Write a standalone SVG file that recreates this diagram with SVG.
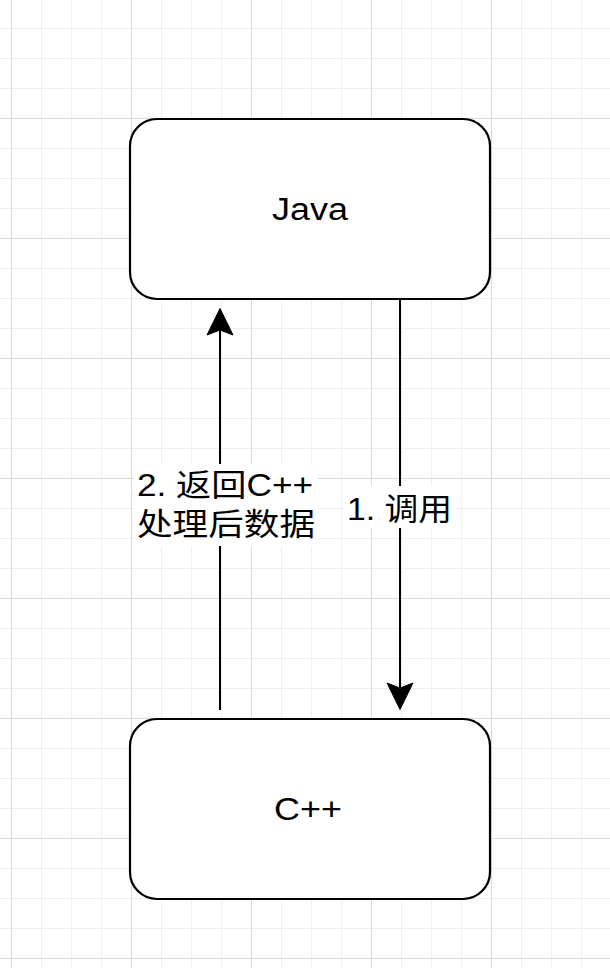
<svg xmlns="http://www.w3.org/2000/svg" width="610" height="968" viewBox="0 0 610 968">
  <defs>
    <pattern id="grid" patternUnits="userSpaceOnUse" x="11" y="-2" width="120" height="120">
      <path d="M30.5 0V120M60.5 0V120M90.5 0V120M0 30.5H120M0 60.5H120M0 90.5H120" stroke="#efefef" stroke-width="1" fill="none"/>
      <path d="M0.5 0V120M0 0.5H120" stroke="#d9d9d9" stroke-width="1" fill="none"/>
    </pattern>
    <style>
      .node rect { fill: #ffffff; stroke: #000000; stroke-width: 2.2; }
      .lbl { font-family: "Liberation Sans", "Noto Sans CJK SC", sans-serif; fill: #000000; }
      .edge line { stroke: #000000; stroke-width: 2; }
      .head { fill: #000000; stroke: #000000; stroke-width: 1; }
      .bg { fill: #ffffff; }
    </style>
  </defs>
  <rect x="0" y="0" width="610" height="968" fill="#ffffff"/>
  <rect x="0" y="0" width="610" height="968" fill="url(#grid)"/>

  <g id="node-java" class="node">
    <rect x="130" y="119" width="360" height="180" rx="27" ry="27"/>
    <text class="lbl" x="310" y="220" font-size="31" text-anchor="middle" textLength="76" lengthAdjust="spacingAndGlyphs">Java</text>
  </g>

  <g id="node-cpp" class="node">
    <rect x="130" y="719" width="360" height="180" rx="27" ry="27"/>
    <text class="lbl" x="308" y="820" font-size="31" text-anchor="middle" textLength="68" lengthAdjust="spacingAndGlyphs">C++</text>
  </g>

  <g id="connectors" class="edge">
    <g id="edge-call">
      <line x1="400" y1="299" x2="400" y2="690"/>
      <path class="head" d="M400 709.5L387 683L400 688L413 683Z"/>
      <rect class="bg" x="344" y="486" width="112" height="42"/>
      <text class="lbl" x="347" y="520" font-size="31" textLength="105" lengthAdjust="spacingAndGlyphs">1. 调用</text>
    </g>
    <g id="edge-return">
      <line x1="220" y1="710" x2="220" y2="328"/>
      <path class="head" d="M220 308.5L233 335L220 330L207 335Z"/>
      <rect class="bg" x="134" y="464" width="184" height="82"/>
      <text class="lbl" x="137" y="496" font-size="31" textLength="176" lengthAdjust="spacingAndGlyphs">2. 返回C++</text>
      <text class="lbl" x="137" y="535" font-size="31" textLength="178" lengthAdjust="spacingAndGlyphs">处理后数据</text>
    </g>
  </g>
</svg>
